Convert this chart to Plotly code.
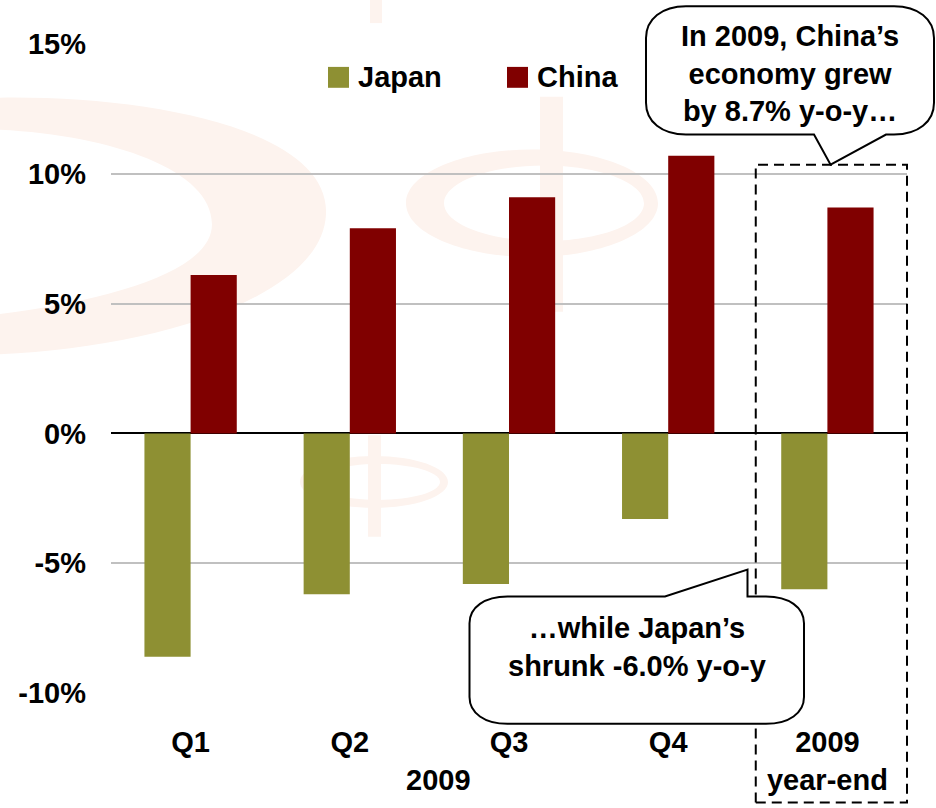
import plotly.graph_objects as go

# ---- data -------------------------------------------------------------
categories = ["Q1", "Q2", "Q3", "Q4", "2009<br>year-end"]
japan_growth = [-8.6, -6.2, -5.8, -3.3, -6.0]   # real GDP, % y-o-y
china_growth = [6.1, 7.9, 9.1, 10.7, 8.7]
series_names = ["Japan", "China"]
series_colors = ["#8E9033", "#800000"]
y_tickvals = [-10, -5, 0, 5, 10, 15]
y_ticktext = ["-10%", "-5%", "0%", "5%", "10%", "15%"]
group_label = "2009"
note_china = "In 2009, China\u2019s<br>economy grew<br>by 8.7% y-o-y\u2026"
note_japan = "\u2026while Japan\u2019s<br>shrunk -6.0% y-o-y<br> "

# ---- geometry ---------------------------------------------------------
W, H = 936, 808
M_L, M_R, M_T, M_B = 111, 29, 44, 112
Y_MIN, Y_MAX = -10, 15
PL, PR, PT, PB = M_L, W - M_R, M_T, H - M_B

FONT = "Liberation Sans, Arial, Helvetica, sans-serif"
FS = 29
WATERMARK = "#FDF3EE"


def fx(x):
    """pixel x -> paper x"""
    return (x - PL) / (PR - PL)


def fy(y):
    """pixel y -> paper y"""
    return (PB - y) / (PB - PT)


def cat_x(i):
    return (i + 0.5) / len(categories)


def val_y(v):
    return (v - Y_MIN) / (Y_MAX - Y_MIN)


def path(points_cmds):
    """Build an SVG path in paper units from pixel commands."""
    out = []
    for cmd, *pts in points_cmds:
        coords = " ".join(f"{fx(px):.5f},{fy(py):.5f}" for px, py in pts)
        out.append(f"{cmd}{coords}" if coords else cmd)
    return " ".join(out)


def ellipse_cmds(cx, cy, rx, ry, reverse=False):
    k = 0.5523
    if not reverse:
        return [
            ("M", (cx + rx, cy)),
            ("C", (cx + rx, cy + k * ry), (cx + k * rx, cy + ry), (cx, cy + ry)),
            ("C", (cx - k * rx, cy + ry), (cx - rx, cy + k * ry), (cx - rx, cy)),
            ("C", (cx - rx, cy - k * ry), (cx - k * rx, cy - ry), (cx, cy - ry)),
            ("C", (cx + k * rx, cy - ry), (cx + rx, cy - k * ry), (cx + rx, cy)),
            ("Z",),
        ]
    return [
        ("M", (cx + rx, cy)),
        ("C", (cx + rx, cy - k * ry), (cx + k * rx, cy - ry), (cx, cy - ry)),
        ("C", (cx - k * rx, cy - ry), (cx - rx, cy - k * ry), (cx - rx, cy)),
        ("C", (cx - rx, cy + k * ry), (cx - k * rx, cy + ry), (cx, cy + ry)),
        ("C", (cx + k * rx, cy + ry), (cx + rx, cy + k * ry), (cx + rx, cy)),
        ("Z",),
    ]


def callout_cmds(L, R, T, B, rx, ry, tail, tail_on_top):
    """Rounded box with a pointer; tail = (base_a, tip, base_b) in px."""
    c = 0.4
    a, tip, b = tail
    cmds = [("M", (L + rx, T))]
    if tail_on_top:
        cmds += [("L", a), ("L", tip), ("L", b)]
    cmds += [
        ("L", (R - rx, T)),
        ("C", (R - rx * c, T), (R, T + ry * c), (R, T + ry)),
        ("L", (R, B - ry)),
        ("C", (R, B - ry * c), (R - rx * c, B), (R - rx, B)),
    ]
    if not tail_on_top:
        cmds += [("L", b), ("L", tip), ("L", a)]
    cmds += [
        ("L", (L + rx, B)),
        ("C", (L + rx * c, B), (L, B - ry * c), (L, B - ry)),
        ("L", (L, T + ry)),
        ("C", (L, T + ry * c), (L + rx * c, T), (L + rx, T)),
        ("Z",),
    ]
    return cmds


# ---- figure -----------------------------------------------------------
fig = go.Figure()
for name, vals, col in zip(series_names, [japan_growth, china_growth], series_colors):
    fig.add_trace(go.Bar(x=categories, y=vals, name=name, marker_color=col,
                         marker_line_width=0, showlegend=False))

shapes = []

# faint currency-symbol watermark behind the chart
crescent = [
    ("M", (-5, 98)),
    ("C", (150, 95), (330, 130), (326, 215)),
    ("C", (322, 300), (150, 350), (-5, 356)),
    ("L", (-5, 316)),
    ("C", (120, 300), (212, 270), (212, 225)),
    ("C", (212, 170), (110, 135), (-5, 130)),
    ("Z",),
]
shapes.append(dict(type="path", xref="paper", yref="paper", path=path(crescent),
                   fillcolor=WATERMARK, line_width=0, layer="below"))
ring_mid = ellipse_cmds(532, 204, 126, 54) + ellipse_cmds(544, 204, 100, 38, reverse=True)
shapes.append(dict(type="path", xref="paper", yref="paper", path=path(ring_mid),
                   fillcolor=WATERMARK, line_width=0, layer="below"))
ring_small = ellipse_cmds(374, 484, 74, 26) + ellipse_cmds(378, 484, 62, 18, reverse=True)
shapes.append(dict(type="path", xref="paper", yref="paper", path=path(ring_small),
                   fillcolor=WATERMARK, line_width=0, layer="below"))
for x0, x1, y0, y1 in [(540, 563, 97, 313), (368, 381, 437, 539), (370, 382, -2, 23)]:
    shapes.append(dict(type="rect", xref="paper", yref="paper",
                       x0=fx(x0), x1=fx(x1), y0=fy(y1), y1=fy(y0),
                       fillcolor=WATERMARK, line_width=0, layer="below"))

# legend swatches
leg_items = [(328, series_names[0], series_colors[0]), (507, series_names[1], series_colors[1])]
for sx, _, col in leg_items:
    shapes.append(dict(type="rect", xref="paper", yref="paper",
                       x0=fx(sx), x1=fx(sx + 21), y0=fy(88), y1=fy(67),
                       fillcolor=col, line_width=0))

# dashed frame around the full-year pair
shapes.append(dict(type="rect", xref="paper", yref="paper",
                   x0=cat_x(3.55), x1=cat_x(4.5),
                   y0=fy(806), y1=val_y(10.35),
                   line=dict(color="black", width=2, dash="10px,6px"),
                   fillcolor="rgba(0,0,0,0)"))

# call-out bubbles
top_tip = (PL + cat_x(4.02) * (PR - PL), PB - val_y(10.35) * (PB - PT))
top_box = callout_cmds(646, 934, 6, 135, 40, 32,
                       ((814, 135), top_tip, (886, 135)), tail_on_top=False)
shapes.append(dict(type="path", xref="paper", yref="paper", path=path(top_box),
                   fillcolor="white", line=dict(color="black", width=2)))
bot_box = callout_cmds(469.5, 804, 599, 727, 38, 27,
                       ((665, 599), (747.5, 572), (747.5, 599)), tail_on_top=True)
shapes.append(dict(type="path", xref="paper", yref="paper", path=path(bot_box),
                   fillcolor="white", line=dict(color="black", width=2)))

text_font = dict(family=FONT, size=FS, color="black", weight="bold")
annotations = []
for sx, name, _ in leg_items:
    annotations.append(dict(xref="paper", yref="paper", x=fx(sx + 28), y=fy(77),
                            text=name, showarrow=False, xanchor="left", yanchor="middle",
                            font=text_font))
annotations.append(dict(xref="paper", yref="paper", x=fx(790), y=fy(74),
                        text=note_china, showarrow=False, xanchor="center", yanchor="middle",
                        align="center", font=text_font))
annotations.append(dict(xref="paper", yref="paper", x=fx(637), y=fy(668),
                        text=note_japan, showarrow=False, xanchor="center", yanchor="middle",
                        align="center", font=text_font))
annotations.append(dict(xref="paper", yref="paper", x=fx(438), y=fy(783),
                        text=group_label, showarrow=False, xanchor="center", yanchor="middle",
                        font=text_font))

fig.update_layout(
    width=W, height=H,
    margin=dict(l=M_L, r=M_R, t=M_T, b=M_B, pad=0),
    paper_bgcolor="white", plot_bgcolor="rgba(0,0,0,0)",
    barmode="group", bargap=0.42, bargroupgap=0,
    shapes=shapes, annotations=annotations,
    font=text_font,
)
fig.update_xaxes(type="category", showgrid=False, showline=False, ticks="",
                 ticklabelstandoff=29, tickfont=text_font)
fig.update_yaxes(range=[Y_MIN, Y_MAX], tickvals=y_tickvals, ticktext=y_ticktext,
                 showgrid=True, gridcolor="#C0C0C0", gridwidth=1.5,
                 zeroline=True, zerolinecolor="black", zerolinewidth=2,
                 showline=False, ticks="", ticklabelstandoff=24, tickfont=text_font)

fig.write_html("out.html")
